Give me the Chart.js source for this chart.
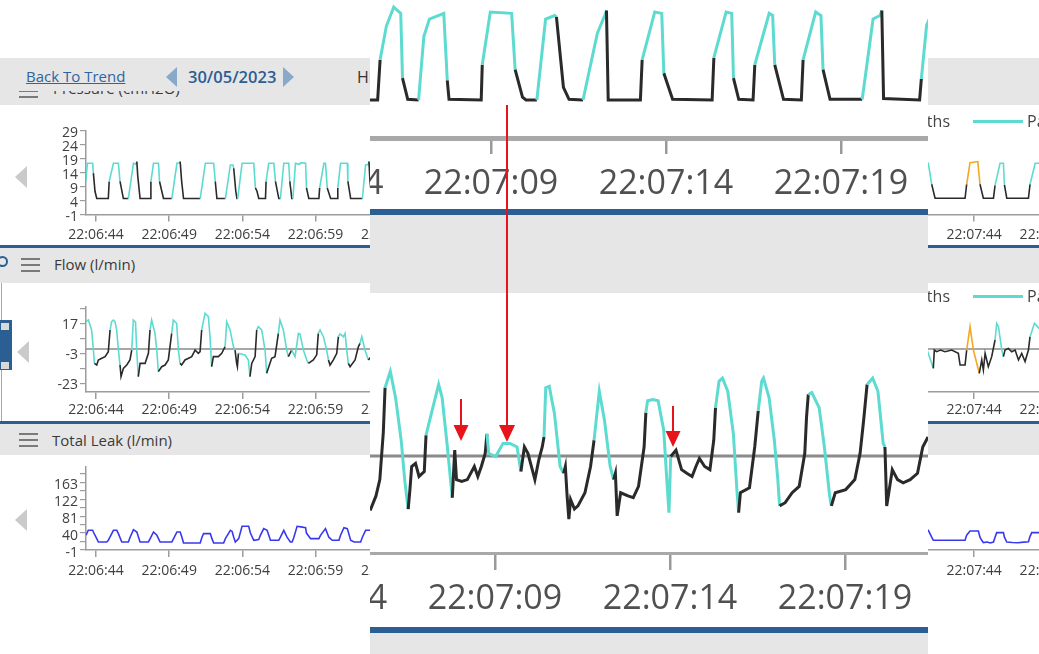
<!DOCTYPE html>
<html>
<head>
<meta charset="utf-8">
<script src="https://cdn.jsdelivr.net/npm/chart.js@4.4.1/dist/chart.umd.min.js"></script>
<style>
  html, body { margin: 0; padding: 0; width: 1039px; height: 654px; overflow: hidden; background: #fff;
    font-family: "Open Sans", "Noto Sans", sans-serif; }
  .abs { position: absolute; }
  .gray { position: absolute; background: #e6e6e6; }
  .blue { position: absolute; background: #2b5f94; }
  .ham { position: absolute; width: 19px; height: 2px; background: #7a7a7a;
    box-shadow: 0 6px 0 #7a7a7a, 0 12px 0 #7a7a7a; }
  .hdr { position: absolute; font-size: 15px; color: #3a3a3a; white-space: nowrap; }
  .tri { position: absolute; width: 0; height: 0; border-top: 11px solid transparent;
    border-bottom: 11px solid transparent; border-right: 12px solid #cacaca; }
  .legend { position: absolute; font-size: 16px; color: #444; white-space: nowrap; }
  canvas { position: absolute; left: 0; }
</style>
</head>
<body>

<!-- top bar -->
<div class="gray" style="left:0;top:80px;width:1039px;height:25px;"></div>
<div class="ham" style="left:19px;top:84px;"></div>
<div class="hdr" style="left:53px;top:78px;">Pressure (cmH2O)</div>
<div class="gray" style="left:0;top:58px;width:1039px;height:33px;z-index:2;">
  <div class="abs" style="left:26px;top:8px;font-size:15px;color:#2f64a0;text-decoration:underline;">Back To Trend</div>
  <div class="abs" style="left:166px;top:9px;width:0;height:0;border-top:10px solid transparent;border-bottom:10px solid transparent;border-right:11px solid #89a9c9;"></div>
  <div class="abs" style="left:188px;top:7px;font-size:16.5px;font-weight:600;color:#2c5d93;">30/05/2023</div>
  <div class="abs" style="left:283px;top:9px;width:0;height:0;border-top:10px solid transparent;border-bottom:10px solid transparent;border-left:11px solid #89a9c9;"></div>
  <div class="abs" style="left:357px;top:8px;font-size:16px;color:#333;white-space:nowrap;">Hide Breath Types</div>
</div>

<!-- pressure panel -->
<canvas id="pressMini" width="1100" height="140" style="top:105px;"></canvas>
<div class="tri" style="left:15px;top:166px;"></div>
<div class="legend" style="right:89px;top:110px;">Mandatory Breaths</div>
<div class="abs" style="left:973px;top:120px;width:50px;height:3px;background:#5edbd0;"></div>
<div class="legend" style="left:1027px;top:110px;">Patient Triggered</div>
<div class="blue" style="left:0;top:245px;width:1039px;height:3px;"></div>

<!-- flow panel -->
<div class="gray" style="left:0;top:248px;width:1039px;height:35px;"></div>
<div class="abs" style="left:-3px;top:256px;width:7px;height:7px;border:2px solid #2b5f94;border-radius:50%;"></div>
<div class="ham" style="left:21px;top:258px;"></div>
<div class="hdr" style="left:54px;top:254px;">Flow (l/min)</div>
<canvas id="flowMini" width="1100" height="138" style="top:283px;"></canvas>
<div class="abs" style="left:1px;top:283px;width:1px;height:138px;background:#a8a8a8;"></div>
<div class="blue" style="left:0;top:320px;width:12px;height:50px;"></div>
<div class="abs" style="left:0;top:322px;width:8px;height:7px;background:#d9d9d9;border:1px solid #2b5f94;"></div>
<div class="abs" style="left:0;top:361px;width:8px;height:7px;background:#d9d9d9;border:1px solid #2b5f94;"></div>
<div class="tri" style="left:17px;top:341px;"></div>
<div class="legend" style="right:89px;top:285px;">Mandatory Breaths</div>
<div class="abs" style="left:973px;top:295px;width:50px;height:3px;background:#5edbd0;"></div>
<div class="legend" style="left:1027px;top:285px;">Patient Triggered</div>
<div class="blue" style="left:0;top:421px;width:1039px;height:3px;"></div>

<!-- leak panel -->
<div class="gray" style="left:0;top:424px;width:1039px;height:31px;"></div>
<div class="ham" style="left:19px;top:433px;"></div>
<div class="hdr" style="left:52px;top:430px;">Total Leak (l/min)</div>
<canvas id="leakMini" width="1100" height="150" style="top:455px;"></canvas>
<div class="tri" style="left:15px;top:509px;"></div>

<!-- enlarged overlay -->
<div class="abs" style="left:370px;top:0;width:558px;height:654px;overflow:hidden;background:#fff;z-index:5;">
  <canvas id="pressZoom" width="698" height="210" style="left:-140px;top:0;"></canvas>
  <div class="blue" style="left:0;top:209px;width:558px;height:6px;"></div>
  <div class="gray" style="left:0;top:215px;width:558px;height:78px;"></div>
  <canvas id="flowZoom" width="698" height="335" style="left:-140px;top:293px;"></canvas>
  <div class="blue" style="left:0;top:627px;width:558px;height:6px;"></div>
  <div class="gray" style="left:0;top:633px;width:558px;height:21px;"></div>
</div>

<svg class="abs" style="left:0;top:0;z-index:10;" width="1039" height="654">
  <g fill="#e8141b" stroke="#e8141b" stroke-width="2">
    <line x1="507" y1="105" x2="507" y2="427"/>
    <polygon stroke="none" points="499,425 515,425 507,442"/>
    <line x1="461" y1="399" x2="461" y2="427"/>
    <polygon stroke="none" points="453.5,425 468.5,425 461,441"/>
    <line x1="673" y1="406" x2="673" y2="433"/>
    <polygon stroke="none" points="665.5,431 680.5,431 673,447"/>
  </g>
</svg>

<script>
// seconds after 22:06:00
const timeTicks = [44, 49, 54, 59, 64, 69, 74, 79, 84, 89, 94, 99, 104, 109];
const pressTicks = [-1, 4, 9, 14, 19, 24, 29];
const flowTicks = [-23, -13, -3, 7, 17, 27];
const flowLabels = [-23, -3, 17];
const leakTicks = [-1, 19.5, 40, 60.5, 81, 101.5, 122, 142.5, 163, 183.5];
const leakLabels = [-1, 40, 81, 122, 163];

// Pressure (cmH2O); phase c = mandatory, k = expiration, o = patient triggered
const pressTime = [
  43.30, 43.41, 43.77, 43.82, 43.93, 44.05, 44.84, 44.90, 45.19, 45.53, 45.64, 45.87,
  46.21, 46.56, 46.72, 46.79, 46.85, 47.01, 47.70, 47.75, 47.93, 48.27, 48.34, 48.61,
  49.18, 49.53, 49.70, 49.75, 49.85, 49.98, 51.12, 51.47, 52.04, 52.15, 52.26,
  52.84, 53.18, 53.36, 53.41, 53.55, 53.63, 53.68, 53.98, 54.78, 54.89, 55.00, 55.12,
  55.58, 55.62, 55.80, 56.15, 56.26, 56.49, 56.60, 56.83, 57.17, 57.24, 57.38,
  57.45, 57.63, 57.90, 58.00, 58.32, 58.38, 58.54, 59.23, 59.28, 59.57, 59.68, 59.80, 60.03,
  60.48, 60.52, 60.71, 61.17, 61.21, 61.40, 62.20, 62.42, 62.60, 62.65, 62.72, 62.85, 63.40,
  65.50, 65.76, 65.83, 66.01, 66.22, 66.42, 66.47, 66.62, 66.93, 67.08, 67.24, 67.65, 67.75, 67.80,
  68.72, 68.75, 68.98, 69.59, 69.69, 69.90, 70.00, 70.31, 70.56, 70.82, 70.87, 71.07, 71.23,
  71.63, 72.04, 72.25, 72.30, 72.35, 73.27, 73.32, 73.68, 73.88, 73.94, 74.19,
  75.32, 75.37, 75.72, 75.88, 75.93, 76.08, 76.49, 76.54, 76.95, 77.05, 77.11, 77.36,
  77.87, 77.92, 78.28, 78.43, 78.49, 78.69, 79.61, 79.92, 80.12, 80.17, 80.22, 81.25, 81.30, 81.45, 81.60,
  90,
  100.60, 100.87, 101.10, 101.33, 103.38, 103.49, 103.72, 104.25, 104.40, 104.63, 105.32, 105.43,
  105.77, 106.00, 106.07, 106.23, 107.71, 107.82, 108.17, 108.80
];
const pressValue = [
  10.9, 17.3, 17.3, 13.8, 7.3, 4.7, 4.7, 10.8, 17.3, 17.3, 10.8, 4.7,
  4.7, 17.3, 16.9, 17.9, 12.9, 4.7, 4.7, 10.8, 17.3, 17.3, 10.8, 4.7,
  4.7, 17.3, 17.5, 17.9, 10.9, 4.7, 4.7, 17.3, 17.3, 10.8, 4.7,
  4.7, 16.7, 16.7, 15.5, 7.3, 4.7, 4.7, 17.3, 17.3, 8.5, 7.3, 4.7,
  4.7, 10.8, 17.3, 17.3, 10.8, 4.7, 4.7, 17.3, 17.3, 10.8, 4.7,
  4.7, 17.3, 16.9, 17.5, 17.3, 8.5, 4.7, 4.7, 8.5, 17.3, 17.3, 8.5, 4.7,
  4.7, 8.5, 17.3, 17.3, 10.8, 4.7, 4.7, 16.7, 16.9, 17.9, 10.9, 4.7, 4.7,
  4.8, 4.8, 10.5, 15.3, 18.0, 17.1, 7.9, 4.9, 4.8, 13.8, 16.3, 17.1, 7.6, 4.9,
  4.8, 9.8, 17.3, 17.1, 9.1, 5.2, 4.8, 4.8, 16.3, 16.8, 16.6, 6.6, 4.9,
  4.8, 14.3, 16.8, 17.5, 4.8, 4.8, 10.5, 17.3, 17.1, 8.6, 4.9,
  4.8, 10.8, 17.3, 17.1, 7.9, 4.9, 4.8, 9.8, 17.1, 16.8, 9.8, 4.9,
  4.8, 10.5, 17.3, 16.8, 9.1, 4.9, 4.9, 16.3, 16.8, 17.5, 5.0, 4.8, 7.8, 15.4, 17.2,
  null,
  17.3, 17.3, 9.8, 4.8, 4.8, 9.8, 17.5, 17.9, 9.8, 4.8, 4.8, 9.4,
  17.3, 17.3, 9.6, 4.8, 4.8, 9.8, 17.3, 17.3
];
const pressPhase = [
  "c", "c", "c", "k", "k", "k", "k", "c", "c", "c", "k", "k",
  "c", "c", "c", "k", "k", "k", "k", "c", "c", "c", "k", "k",
  "c", "c", "c", "k", "k", "k", "c", "c", "c", "k", "k",
  "c", "c", "c", "k", "k", "k", "c", "c", "c", "k", "k", "k",
  "k", "c", "c", "c", "k", "k", "c", "c", "c", "k", "k",
  "c", "c", "c", "c", "c", "k", "k", "k", "c", "c", "c", "k", "k",
  "k", "c", "c", "c", "k", "k", "c", "c", "c", "k", "k", "k", "k",
  "k", "k", "c", "c", "c", "c", "k", "k", "c", "c", "c", "c", "k", "k",
  "k", "c", "c", "c", "k", "k", "k", "c", "c", "c", "k", "k", "k",
  "c", "c", "c", "k", "k", "k", "c", "c", "c", "k", "k",
  "k", "c", "c", "c", "k", "k", "k", "c", "c", "c", "k", "k",
  "k", "c", "c", "c", "k", "k", "c", "c", "c", "k", "k", "k", "c", "c", "c",
  "k",
  "c", "c", "k", "k", "k", "o", "o", "o", "k", "k", "k", "c",
  "c", "c", "k", "k", "k", "c", "c", "c"
];

// Flow (l/min)
const flowTime = [
  43.25, 43.48, 43.70, 43.82, 43.89, 44.05, 44.16, 44.39, 44.62, 44.84,
  44.96, 45.07, 45.18, 45.30, 45.41, 45.53, 45.64, 45.71, 45.87, 46.10, 46.32,
  46.44, 46.55, 46.70, 46.78, 46.89, 47.01, 47.35, 47.58,
  47.69, 47.80, 48.03, 48.15, 48.26, 48.49, 48.72, 48.94,
  49.17, 49.28, 49.51, 49.63, 49.74, 49.85, 50.08, 50.54, 50.77, 50.99, 51.11,
  51.22, 51.45, 51.68, 51.79, 51.90, 52.02, 52.36, 52.59,
  52.82, 52.93, 53.16, 53.39, 53.50, 53.61, 53.66, 53.73, 54.18, 54.41, 54.52, 54.64, 54.87,
  54.98, 55.09, 55.32, 55.55, 55.66, 56.00, 56.23,
  56.46, 56.57, 56.80, 57.03, 57.14, 57.37, 57.60, 57.83, 57.94, 58.17, 58.40, 58.51, 58.85, 59.08,
  59.19, 59.31, 59.54, 59.76, 59.88, 59.99, 60.22, 60.45,
  60.56, 60.67, 60.90, 61.02, 61.13, 61.24, 61.36, 61.70, 61.93, 62.04, 62.16, 62.38, 62.61, 62.80, 63.50,
  65.45, 65.60, 65.71, 65.81, 65.86, 66.01, 66.16, 66.32, 66.42, 66.52, 66.57, 66.62, 66.73, 66.83, 66.98,
  67.03, 67.18, 67.39, 67.49, 67.64, 67.78, 67.85, 67.90, 68.05, 68.21, 68.41, 68.51, 68.61, 68.72,
  68.77, 68.82, 69.02, 69.23, 69.43, 69.63, 69.74, 69.84, 69.94, 70.04, 70.14, 70.25, 70.35,
  70.40, 70.45, 70.55, 70.70, 70.86, 70.96, 71.01, 71.06, 71.11, 71.16, 71.27, 71.37, 71.57, 71.73,
  71.83, 71.98, 72.13, 72.29, 72.39, 72.44, 72.49, 72.59, 72.80, 72.95, 73.10, 73.26,
  73.31, 73.36, 73.51, 73.66, 73.82, 73.92, 73.97, 74.02, 74.17, 74.33, 74.48, 74.63, 74.74, 74.84,
  74.99, 75.14, 75.25, 75.30, 75.40, 75.50, 75.65, 75.81, 75.91, 75.96, 76.01, 76.27, 76.42,
  76.52, 76.62, 76.67, 76.83, 76.98, 77.08, 77.13, 77.29, 77.49, 77.69, 77.85, 77.90,
  77.95, 78.05, 78.26, 78.41, 78.56, 78.61, 78.72, 79.02, 79.28, 79.43, 79.53,
  79.63, 79.79, 79.94, 80.09, 80.14, 80.19, 80.25, 80.35, 80.50, 80.66, 80.86, 81.07, 81.22,
  81.37, 81.45,
  90,
  100.60, 100.87, 101.21, 101.28, 101.44, 101.70, 102.01, 102.47, 102.92, 103.04, 103.38,
  103.49, 103.72, 103.95, 104.35, 104.52, 104.63, 104.75, 104.97, 105.20,
  105.43, 105.54, 105.66, 105.89, 106.00, 106.11, 106.34, 106.57, 106.80, 107.03, 107.25, 107.48, 107.71,
  107.82, 108.12, 108.80
];
const flowValue = [
  18.0, 19.3, 12.7, -0.7, -9.6, -10.7, -7.3, -6.2, -5.1, -1.8,
  12.7, 18.2, 19.3, 18.2, 12.7, -0.7, -10.7, -18.4, -12.9, -10.7, -7.3,
  -0.7, 19.3, 18.0, -0.7, -18.4, -9.6, -9.6, -2.9,
  12.7, 19.3, 10.4, -0.7, -15.1, -11.8, -10.7, -7.3,
  10.4, 19.3, 17.1, -0.7, -9.6, -10.7, -7.3, -5.1, -0.7, -2.9, -1.8,
  12.7, 23.8, 21.6, 8.2, -11.8, -5.1, -5.1, -2.9,
  1.6, 18.2, 12.7, 1.6, -0.7, -9.6, -11.8, -2.9, -4.0, -7.3, -18.4, -9.6, -5.1,
  12.7, 14.9, 12.7, -0.7, -16.2, -6.2, -5.1,
  10.4, 19.3, 12.7, -0.7, -5.1, -0.7, -5.1, 10.4, 10.0, -0.7, -7.3, -9.6, -7.3, -3.9,
  10.4, 12.7, 8.2, -0.7, -7.3, -10.7, -7.3, -2.9,
  8.2, 10.0, 8.2, 10.4, -0.7, -9.6, -11.8, -7.3, 1.6, 3.8, 8.2, -0.7, -7.3, -5.0, -6.0,
  -11.7, -8.8, -5.2, 5.3, 15.1, 18.7, 12.9, 3.5, -5.2, -11.7, -7.4, -2.3, -1.6, -4.5, -3.4,
  4.6, 9.3, 15.8, 12.9, 2.0, -9.2, 1.3, -5.2, -5.6, -5.2, -2.3, -4.5, -2.3, 0.6,
  4.9, 0.6, -0.1, 2.8, 2.8, 2.0, -3.4, 2.0, 0.6, -2.3, -5.2, -0.9, 2.0,
  4.2, 15.1, 15.4, 9.3, -2.3, -3.8, -2.3, -8.8, -13.9, -9.6, -11.7, -11.0, -8.1, -2.3,
  3.5, 14.3, 7.8, -2.3, -5.2, -3.8, -13.2, -8.1, -8.8, -9.2, -6.7, 2.0,
  9.6, 12.2, 12.5, 12.2, 5.7, -6.7, -12.5, -0.1, 1.3, -3.0, -3.8, -4.5, -2.3, -0.5,
  -2.3, -3.0, 3.5, 10.7, 16.5, 17.2, 14.3, 4.9, -7.4, -12.5, -8.1, -7.0, 2.0,
  10.0, 16.5, 17.2, 12.9, 3.5, -5.2, -11.0, -10.3, -8.1, -6.7, 0.6, 8.6,
  13.6, 14.0, 10.7, 2.0, -8.8, -11.0, -8.1, -7.4, -5.2, 0.6, 7.8,
  15.8, 17.2, 14.3, 2.8, 2.0, -11.0, -8.1, -3.0, -5.2, -5.9, -5.2, -3.8, 2.0,
  4.2, 9.3,
  null,
  5.0, -3.0, -12.9, -0.7, -1.8, -0.7, -1.8, -0.7, -2.9, -10.7, -10.7,
  -0.7, 14.9, -0.7, -16.2, -7.3, -14.0, -2.9, -11.8, -5.1,
  6.0, 17.1, 15.0, -0.7, -5.1, -0.7, 0.4, -1.8, -0.7, -7.3, -2.9, -8.4, -0.7,
  8.2, 17.1, 10.0
];
const flowPhase = [
  "c", "c", "c", "c", "k", "k", "k", "k", "k", "k",
  "c", "c", "c", "c", "c", "c", "k", "k", "k", "k", "k",
  "c", "c", "c", "c", "k", "k", "k", "k",
  "c", "c", "c", "c", "k", "k", "k", "k",
  "c", "c", "c", "c", "k", "k", "k", "k", "k", "k", "k",
  "c", "c", "c", "c", "k", "k", "k", "k",
  "c", "c", "c", "c", "k", "k", "k", "c", "c", "c", "k", "k", "k",
  "c", "c", "c", "c", "k", "k", "k",
  "c", "c", "c", "c", "k", "c", "c", "c", "c", "c", "c", "k", "k", "k",
  "c", "c", "c", "c", "k", "k", "k", "k",
  "c", "c", "c", "c", "c", "k", "k", "k", "k", "c", "c", "c", "k", "k", "k",
  "k", "k", "k", "k", "c", "c", "c", "c", "c", "k", "k", "k", "k", "k", "k",
  "c", "c", "c", "c", "c", "k", "k", "k", "k", "k", "k", "k", "k", "k",
  "c", "c", "c", "c", "c", "c", "k", "k", "k", "k", "k", "k", "k",
  "c", "c", "c", "c", "c", "k", "k", "k", "k", "k", "k", "k", "k", "k",
  "c", "c", "c", "c", "k", "k", "k", "k", "k", "k", "k", "k",
  "c", "c", "c", "c", "c", "c", "c", "k", "k", "k", "k", "k", "k", "k",
  "k", "k", "k", "c", "c", "c", "c", "c", "c", "k", "k", "k", "k",
  "c", "c", "c", "c", "c", "c", "k", "k", "k", "k", "k", "k",
  "c", "c", "c", "c", "c", "k", "k", "k", "k", "k", "k",
  "c", "c", "c", "c", "k", "k", "k", "k", "k", "k", "k", "k", "k",
  "c", "c",
  "k",
  "c", "c", "k", "k", "k", "k", "k", "k", "k", "k", "k",
  "o", "o", "o", "k", "k", "k", "k", "k", "k",
  "c", "c", "c", "c", "k", "k", "k", "k", "k", "k", "k", "k", "k",
  "c", "c", "c"
];

// Total leak (l/min)
const leakTime = [
  43.32, 43.47, 43.77, 43.82, 44.05, 44.16, 44.73, 44.84, 45.19, 45.42, 45.53, 45.76,
  46.21, 46.33, 46.56, 46.79, 47.01, 47.58, 47.70, 47.93, 48.16, 48.38,
  49.18, 49.30, 49.53, 49.75, 49.87, 49.98, 51.12, 51.24, 51.35, 51.81, 51.92, 52.04,
  52.72, 52.84, 53.18, 53.30, 53.41, 53.52, 53.75, 53.98, 54.43, 54.55, 54.78,
  55.12, 55.23, 55.46, 55.69, 55.92, 56.49, 56.60, 56.83, 57.05, 57.28, 57.40,
  57.52, 57.74, 58.00, 58.32, 58.38, 58.66, 59.23, 59.34, 59.68, 59.91, 60.14,
  60.60, 60.71, 60.94, 61.17, 61.40, 61.63, 62.08, 62.20, 62.42, 62.77,
  80,
  100.60, 100.87, 101.10, 101.21, 103.38, 103.49, 103.72, 104.29, 104.40, 104.52, 104.63,
  104.90, 105.10, 105.32, 105.43, 105.54, 106.00, 106.07, 106.23, 106.60, 107.00, 107.40,
  107.71, 107.82, 107.94, 108.80
];
const leakValue = [
  34.6, 46.7, 46.7, 42.6, 26.5, 18.4, 18.4, 22.5, 46.7, 46.7, 38.6, 18.4,
  18.4, 30.0, 48.4, 42.6, 18.4, 18.4, 26.5, 42.6, 34.6, 18.4,
  18.4, 26.5, 42.6, 42.6, 30.0, 16.0, 16.0, 30.0, 38.6, 38.6, 26.5, 16.0,
  16.0, 26.5, 46.7, 44.0, 30.0, 18.4, 26.5, 56.4, 56.4, 40.0, 22.5,
  24.1, 34.6, 50.8, 46.7, 22.5, 22.5, 30.0, 46.7, 30.0, 18.4, 18.4,
  30.0, 56.4, 55.0, 53.2, 40.0, 26.5, 26.5, 34.6, 50.8, 30.0, 22.5,
  22.5, 34.6, 53.2, 50.8, 22.5, 18.4, 18.4, 30.0, 46.7, 46.7,
  null,
  46.7, 46.7, 30.0, 22.5, 22.5, 35.0, 45.1, 45.1, 30.0, 22.5, 17.0,
  18.4, 16.0, 18.4, 30.0, 41.0, 41.0, 30.0, 18.4, 17.0, 16.5, 18.0,
  19.0, 32.0, 41.0, 41.0
];

const FONT = '"Open Sans", "Noto Sans", sans-serif';
const phaseColour = { c: "#5edbd0", k: "#2a2a2a", o: "#f5a623" };
const leakColour = "#3838f0";

function clock(v) {
  const m = 6 + Math.floor(v / 60);
  const s = Math.round(v - (m - 6) * 60);
  return "22:" + String(m).padStart(2, "0") + ":" + String(s).padStart(2, "0");
}

function toPoints(times, values) {
  return times.map((t, i) => ({ x: t, y: values[i] }));
}

function trace(times, values, phases, width, colour) {
  const ds = {
    data: toPoints(times, values),
    borderColor: colour || phaseColour.k,
    borderWidth: width,
    pointRadius: 0,
    tension: 0,
    spanGaps: false
  };
  if (phases) ds.segment = { borderColor: c => phaseColour[phases[c.p0DataIndex]] };
  return ds;
}

const zeroLine = {
  id: "zeroLine",
  beforeDatasetsDraw(chart, args, opts) {
    const { ctx, chartArea } = chart;
    const y = chart.scales.y.getPixelForValue(0);
    ctx.save();
    ctx.strokeStyle = opts.color;
    ctx.lineWidth = opts.width;
    ctx.beginPath();
    ctx.moveTo(chartArea.left, y);
    ctx.lineTo(chartArea.right, y);
    ctx.stroke();
    ctx.restore();
  }
};

function timeTicksFor(s) {
  s.ticks = timeTicks.filter(v => v >= s.min && v <= s.max).map(v => ({ value: v }));
}

function miniChart(id, dataset, y, padTop, xHeight, labelPad, zero) {
  return new Chart(document.getElementById(id), {
    type: "line",
    data: { datasets: [dataset] },
    plugins: zero ? [zeroLine] : [],
    options: {
      responsive: false,
      animation: false,
      events: [],
      layout: { padding: { top: padTop, left: 0, right: 0, bottom: 0 } },
      plugins: {
        legend: { display: false },
        tooltip: { enabled: false },
        zeroLine: { color: "#8a8a8a", width: 1.5 }
      },
      scales: {
        x: {
          type: "linear", min: 43.316, max: 112.6,
          afterBuildTicks: timeTicksFor,
          afterFit: s => { s.height = xHeight; },
          border: { color: "#9c9c9c", width: 1.5 },
          grid: { drawOnChartArea: false, tickLength: 7, color: "#9c9c9c", lineWidth: 1.5 },
          ticks: { autoSkip: false, maxRotation: 0, padding: labelPad, color: "#404040",
                   font: { family: FONT, size: 14 }, callback: v => clock(v) }
        },
        y: {
          type: "linear", min: y.min, max: y.max,
          afterBuildTicks: s => { s.ticks = y.ticks.filter(v => v >= s.min && v <= s.max).map(v => ({ value: v })); },
          afterFit: s => { s.width = 86; },
          border: { color: "#9c9c9c", width: 1.5 },
          grid: { drawOnChartArea: false, tickLength: 6, color: "#9c9c9c", lineWidth: 1.2 },
          ticks: { autoSkip: false, padding: 2, labelOffset: y.offset, color: "#404040",
                   font: { family: FONT, size: 14, lineHeight: 1 },
                   callback: v => (y.labels.includes(v) ? String(v) : "") }
        }
      }
    }
  });
}

function zoomChart(id, dataset, xr, yr, xHeight, axisWidth, tickLen, labelPad, zero) {
  return new Chart(document.getElementById(id), {
    type: "line",
    data: { datasets: [dataset] },
    plugins: zero ? [zeroLine] : [],
    options: {
      responsive: false,
      animation: false,
      events: [],
      layout: { padding: 0 },
      plugins: {
        legend: { display: false },
        tooltip: { enabled: false },
        zeroLine: { color: "#8a8a8a", width: 3 }
      },
      scales: {
        x: {
          type: "linear", min: xr[0], max: xr[1],
          afterBuildTicks: timeTicksFor,
          afterFit: s => { s.height = xHeight; },
          border: { color: "#a8a8a8", width: axisWidth },
          grid: { drawOnChartArea: false, tickLength: tickLen, color: "#9a9a9a", lineWidth: 2.5 },
          ticks: { autoSkip: false, maxRotation: 0, padding: labelPad, color: "#505050",
                   font: { family: FONT, size: 34 }, callback: v => clock(v) }
        },
        y: { type: "linear", display: false, min: yr[0], max: yr[1] }
      }
    }
  });
}

document.addEventListener("DOMContentLoaded", () => {
  miniChart("pressMini", trace(pressTime, pressValue, pressPhase, 1.6),
    { min: -1, max: 29, ticks: pressTicks, labels: pressTicks, offset: 3 }, 25.5, 30.5, 5, false);
  miniChart("flowMini", trace(flowTime, flowValue, flowPhase, 1.6),
    { min: -28.67, max: 28, ticks: flowTicks, labels: flowLabels, offset: 1.5 }, 24, 29, 3, true);
  miniChart("leakMini", trace(leakTime, leakValue, null, 1.6, leakColour),
    { min: -1, max: 200, ticks: leakTicks, labels: leakLabels, offset: 3 }, 12, 55, 6, false);

  zoomChart("pressZoom", trace(pressTime, pressValue, pressPhase, 3),
    [61.54, 81.49], [-0.6, 19.0], 72, 5, 16, 10, false);
  zoomChart("flowZoom", trace(flowTime, flowValue, flowPhase, 3),
    [61.43, 81.37], [-21.4, 36], 75, 3, 17, 9, true);
});
</script>
</body>
</html>
